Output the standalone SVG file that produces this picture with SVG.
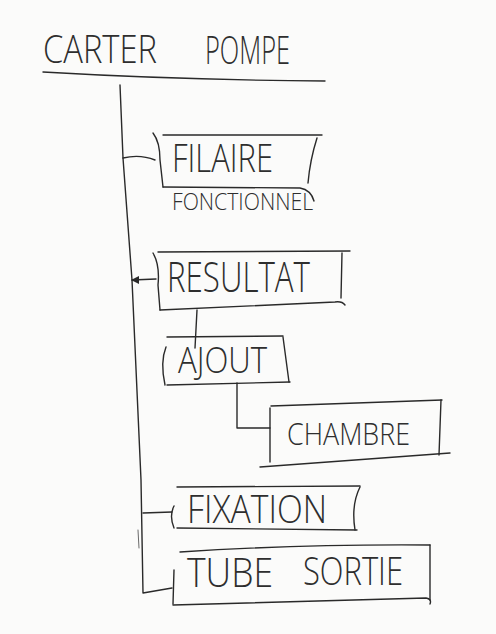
<svg xmlns="http://www.w3.org/2000/svg" width="496" height="634" viewBox="0 0 496 634">
  <style>
    .ink { fill: none; stroke: #2a2a2a; stroke-width: 1.4; stroke-linecap: round; stroke-linejoin: round; }
    .faint { fill: none; stroke: #6a6a6a; stroke-width: 1; stroke-linecap: round; }
    .lbl { font-family: "Open Sans", "Liberation Sans", "DejaVu Sans", sans-serif; font-weight: 300; fill: #2e2e2e; }
  </style>
  <rect width="496" height="634" fill="#fbfbfa"/>

  <!-- tree connectors -->
  <g id="connectors">
    <path class="ink" d="M120 85 L123 158 L132 280 L141 480 L143 593 L172 588"/>
    <path class="faint" d="M138 530 L139 548"/>
    <path class="ink" d="M123 158 Q140 154 155 160"/>
    <path class="ink" d="M132 280 L156 279"/>
    <path d="M131 280 L139 276 L139 284 Z" fill="#2a2a2a"/>
    <path class="ink" d="M197 310 L195 348"/>
    <path class="ink" d="M237 383 L237 428 L270 428"/>
    <path class="ink" d="M143 513 L172 512"/>
  </g>

  <!-- root heading -->
  <g id="carter-pompe">
    <text class="lbl" x="43" y="63" font-size="38" textLength="114" lengthAdjust="spacingAndGlyphs">CARTER</text>
    <text class="lbl" x="205" y="64" font-size="38" textLength="85" lengthAdjust="spacingAndGlyphs">POMPE</text>
    <path class="ink" d="M43 72 Q180 80 325 81"/>
  </g>

  <g id="filaire">
    <path class="ink" d="M153 133 Q160 142 160 160 L163 187"/>
    <path class="ink" d="M163 135 L322 135"/>
    <path class="ink" d="M317 138 Q310 160 308 183"/>
    <path class="ink" d="M163 187 L300 188 Q311 190 314 201"/>
    <text class="lbl" x="172" y="172" font-size="38" textLength="101" lengthAdjust="spacingAndGlyphs">FILAIRE</text>
    <text class="lbl" x="172" y="210" font-size="24" textLength="141" lengthAdjust="spacingAndGlyphs">FONCTIONNEL</text>
  </g>

  <g id="resultat">
    <path class="ink" d="M153 253 Q160 265 158 285 L160 310"/>
    <path class="ink" d="M158 252 L350 251"/>
    <path class="ink" d="M342 253 L341 298"/>
    <path class="ink" d="M160 310 L335 302 Q342 301 345 305"/>
    <text class="lbl" x="167" y="292" font-size="42" textLength="143" lengthAdjust="spacingAndGlyphs">RESULTAT</text>
  </g>

  <g id="ajout">
    <path class="ink" d="M167 337 L283 336"/>
    <path class="ink" d="M166 347 Q160 362 165 385"/>
    <path class="ink" d="M283 337 L289 382"/>
    <path class="ink" d="M167 385 L290 382"/>
    <text class="lbl" x="178" y="373" font-size="36" textLength="89" lengthAdjust="spacingAndGlyphs">AJOUT</text>
  </g>

  <g id="chambre">
    <path class="ink" d="M271 406 L442 400"/>
    <path class="ink" d="M270 408 L270 462"/>
    <path class="ink" d="M441 400 L439 455"/>
    <path class="ink" d="M260 467 L450 453"/>
    <text class="lbl" x="287" y="445" font-size="32" textLength="123" lengthAdjust="spacingAndGlyphs">CHAMBRE</text>
  </g>

  <g id="fixation">
    <path class="ink" d="M177 487 L360 486"/>
    <path class="ink" d="M174 506 Q169 516 174 528"/>
    <path class="ink" d="M360 487 Q351 505 355 530"/>
    <path class="ink" d="M177 528 L357 530"/>
    <text class="lbl" x="187" y="523" font-size="38" textLength="140" lengthAdjust="spacingAndGlyphs">FIXATION</text>
  </g>

  <g id="tube-sortie">
    <path class="ink" d="M180 552 Q300 544 430 545"/>
    <path class="ink" d="M174 570 L173 604"/>
    <path class="ink" d="M430 545 L430 600"/>
    <path class="ink" d="M173 605 L426 598 Q432 599 430 604"/>
    <text class="lbl" x="187" y="587" font-size="40" textLength="86" lengthAdjust="spacingAndGlyphs">TUBE</text>
    <text class="lbl" x="303" y="585" font-size="38" textLength="100" lengthAdjust="spacingAndGlyphs">SORTIE</text>
  </g>
</svg>
